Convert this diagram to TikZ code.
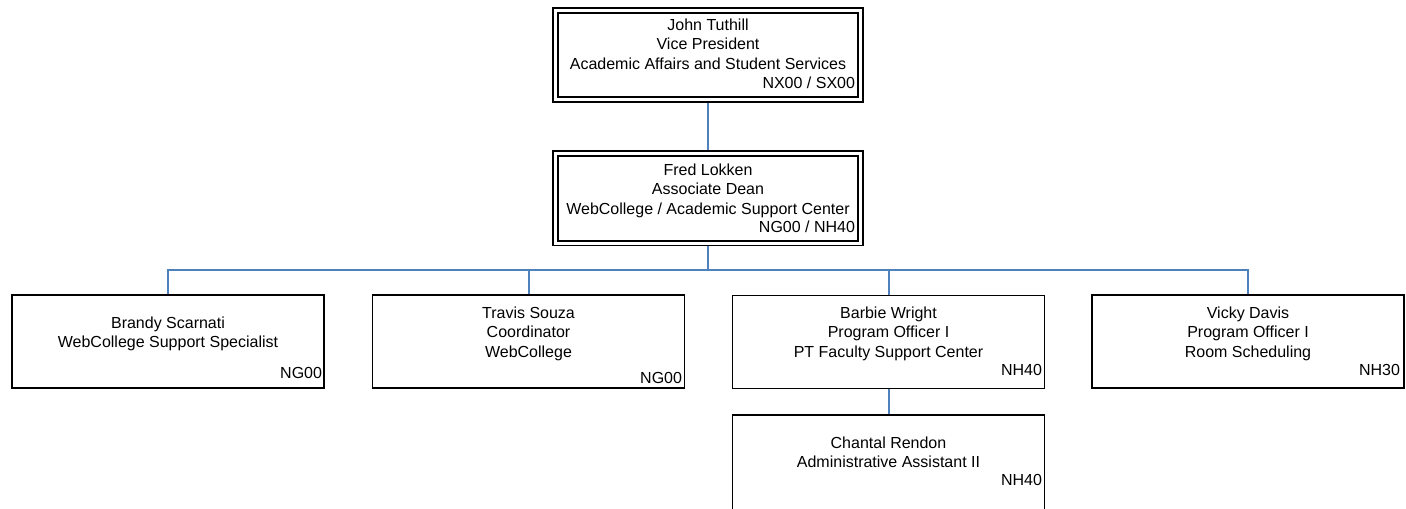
\documentclass[tikz,border=0pt]{standalone}
\usepackage{fontspec}
\setmainfont{Liberation Sans}
\definecolor{linkblue}{HTML}{4F81BD}
\begin{document}
\begin{tikzpicture}[x=0.75pt, y=-0.75pt, every node/.style={inner sep=0pt, outer sep=0pt},
	headbox/.style={draw, double, double distance=2.2pt, line width=1.4pt, outer sep=2.5pt, minimum width=229pt, minimum height=67pt},
	staffbox/.style={draw, line width=1.1pt, outer sep=0.55pt, minimum width=234pt, minimum height=69.75pt},
	txt/.style={anchor=north, align=center, font=\fontsize{12}{14.5}\selectfont},
	code/.style={anchor=east, font=\fontsize{12}{14.5}\selectfont},
	link/.style={draw=linkblue, line width=1.5pt}]
	\useasboundingbox (0,0) rectangle (1406,509);
	
	% Vice President
	\node[headbox] (tuthill) at (708,55) {};
	\node[txt] (tuthilltxt) at (708,19) {John Tuthill\\Vice President\\Academic Affairs and Student Services};
	\node[code] (tuthillcode) at (855,83) {NX00 / SX00};
	
	% Associate Dean
	\node[headbox] (lokken) at (708,198.5) {};
	\node[txt] (lokkentxt) at (708,164) {Fred Lokken\\Associate Dean\\WebCollege / Academic Support Center};
	\node[code] (lokkencode) at (855,227) {NG00 / NH40};
	
	% Staff
	\node[staffbox] (scarnati) at (168,341.5) {};
	\node[txt] (scarnatitxt) at (168,317) {Brandy Scarnati\\WebCollege Support Specialist};
	\node[code] (scarnaticode) at (322,373) {NG00};
	
	\node[staffbox] (souza) at (528.5,341.5) {};
	\node[txt] (souzatxt) at (528.5,307) {Travis Souza\\Coordinator\\WebCollege};
	\node[code] (souzacode) at (682,378) {NG00};
	
	\node[staffbox] (wright) at (888.5,342) {};
	\node[txt] (wrighttxt) at (888.5,307) {Barbie Wright\\Program Officer I\\PT Faculty Support Center};
	\node[code] (wrightcode) at (1042,370) {NH40};
	
	\node[staffbox] (davis) at (1248,341.5) {};
	\node[txt] (davistxt) at (1248,307) {Vicky Davis\\Program Officer I\\Room Scheduling};
	\node[code] (daviscode) at (1400,370) {NH30};
	
	\node[staffbox, minimum height=72pt] (rendon) at (888.5,463) {};
	\node[txt] (rendontxt) at (888.5,437) {Chantal Rendon\\Administrative Assistant II};
	\node[code] (rendoncode) at (1042,480) {NH40};
	
	% Connectors
	\coordinate (bus) at (708,270);
	\draw[link] (tuthill) -- (lokken);
	\draw[link] (lokken) -- (bus);
	\draw[link] (scarnati) |- (bus) -| (davis);
	\foreach \n in {souza, wright}
		\draw[link] (\n) -- (\n |- bus);
	\draw[link] (wright) -- (rendon);
\end{tikzpicture}
\end{document}
